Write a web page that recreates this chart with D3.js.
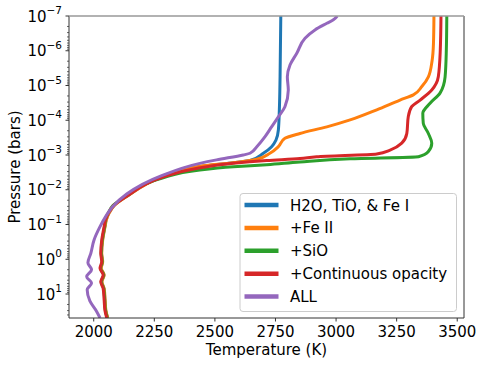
<!DOCTYPE html>
<html>
<head>
<meta charset="utf-8">
<script src="https://cdn.jsdelivr.net/npm/d3@7/dist/d3.min.js"></script>
<style>
  html, body { margin: 0; padding: 0; background: #fff; }
  svg { display: block; font-family: "DejaVu Sans", sans-serif; }
</style>
</head>
<body>
<svg id="chart" width="485" height="367"></svg>
<script>
// ---- Data: [temperature (K), log10 pressure (bars)], ordered deep -> high altitude ----
const seriesNames = ["H2O, TiO, & Fe I", "+Fe II", "+SiO", "+Continuous opacity", "ALL"];
const seriesColors = ["#1f77b4", "#ff7f0e", "#2ca02c", "#d62728", "#9467bd"];

const profileBase = [
  [2059,1.69],[2051,1.46],[2048,1.17],[2044,0.84],[2035,0.65],[2044,0.45],[2032,0.26],[2038,0.07],
  [2034,-0.17],[2038,-0.55],[2048,-0.94],[2053,-1.13],[2064,-1.32],[2086,-1.55],[2142,-1.83],[2282,-2.36],
  [2440,-2.66],[2578,-2.78],[2647,-2.84],[2702,-3.05],[2736,-3.24],[2754,-3.43],[2764,-3.72],[2768,-4.30],
  [2771,-5.25],[2774,-7.00]
];
const profileFeII = [
  [2060,1.69],[2052,1.46],[2049,1.17],[2045,0.84],[2036,0.65],[2045,0.45],[2033,0.26],[2039,0.07],
  [2035,-0.17],[2039,-0.55],[2049,-0.94],[2054,-1.13],[2065,-1.32],[2087,-1.55],[2143,-1.83],[2282,-2.36],
  [2440,-2.68],[2578,-2.78],[2675,-2.88],[2729,-3.05],[2764,-3.24],[2791,-3.48],[2853,-3.62],[2964,-3.81],
  [3060,-4.01],[3170,-4.30],[3266,-4.58],[3321,-4.73],[3356,-4.97],[3383,-5.25],[3398,-5.70],[3404,-6.21],
  [3406,-7.00]
];
const profileSiO = [
  [2058,1.69],[2050,1.46],[2047,1.17],[2043,0.84],[2033,0.65],[2043,0.45],[2030,0.26],[2037,0.07],
  [2033,-0.17],[2037,-0.55],[2047,-0.94],[2051,-1.13],[2061,-1.32],[2082,-1.55],[2140,-1.83],[2282,-2.33],
  [2440,-2.57],[2578,-2.66],[2716,-2.72],[2853,-2.80],[3060,-2.89],[3342,-2.95],[3383,-3.10],[3397,-3.34],
  [3383,-3.62],[3362,-3.91],[3360,-4.20],[3390,-4.49],[3431,-4.78],[3452,-5.25],[3457,-6.00],[3459,-7.00]
];
const profileContinuum = [
  [2056,1.69],[2048,1.46],[2045,1.17],[2041,0.84],[2031,0.65],[2041,0.45],[2028,0.26],[2035,0.07],
  [2031,-0.17],[2035,-0.55],[2045,-0.94],[2050,-1.13],[2062,-1.32],[2085,-1.55],[2141,-1.83],[2282,-2.35],
  [2430,-2.62],[2578,-2.76],[2716,-2.84],[2853,-2.90],[2922,-2.95],[3170,-3.03],[3225,-3.14],[3273,-3.34],
  [3294,-3.62],[3300,-4.10],[3314,-4.39],[3349,-4.58],[3397,-4.87],[3424,-5.25],[3432,-6.00],[3435,-7.00]
];
const profileAll = [
  [2028,1.69],[2014,1.50],[1986,1.20],[1975,0.88],[1993,0.68],[1973,0.50],[1993,0.30],[1978,0.10],
  [1990,-0.17],[2003,-0.55],[2028,-0.94],[2053,-1.25],[2080,-1.51],[2138,-1.88],[2280,-2.40],[2440,-2.76],[2509,-2.86],
  [2619,-3.00],[2647,-3.05],[2675,-3.24],[2709,-3.53],[2736,-3.81],[2764,-4.10],[2791,-4.39],[2805,-4.87],
  [2801,-5.25],[2812,-5.59],[2840,-5.93],[2874,-6.36],[2915,-6.60],[2964,-6.79],[2991,-6.89],[3007,-7.00]
];
const profiles = [profileBase, profileFeII, profileSiO, profileContinuum, profileAll];

const xTicks = [2000, 2250, 2500, 2750, 3000, 3250, 3500];
const yTickExponents = [-7, -6, -5, -4, -3, -2, -1, 0, 1];
const xDomain = [1900, 3530];
const yDomain = [1e-7, Math.pow(10, 1.69)];

// ---- Layout ----
const svg = d3.select("#chart");
const L = 69, R = 464, T = 16, B = 318;

const x = d3.scaleLinear().domain(xDomain).range([L, R]);
const y = d3.scaleLog().domain(yDomain).range([T, B]);

svg.append("defs").append("clipPath").attr("id", "clip")
  .append("rect").attr("x", L).attr("y", T).attr("width", R - L).attr("height", B - T);

// lines
const line = d3.line()
  .x(d => x(d[0]))
  .y(d => y(Math.pow(10, d[1])))
  .curve(d3.curveMonotoneY);

const g = svg.append("g").attr("clip-path", "url(#clip)");
profiles.forEach((p, i) => {
  g.append("path").datum(p)
    .attr("d", line)
    .attr("fill", "none")
    .attr("stroke", seriesColors[i])
    .attr("stroke-width", 3)
    .attr("stroke-linejoin", "round")
    .attr("stroke-linecap", "butt");
});

// x axis
const xAxis = d3.axisBottom(x).tickValues(xTicks).tickSize(3.5).tickPadding(3.5).tickFormat(d3.format("d"));
const gx = svg.append("g").attr("transform", `translate(0,${B})`).call(xAxis);
gx.select(".domain").remove();
gx.selectAll(".tick line").attr("stroke", "#000").attr("stroke-width", 0.8);
gx.selectAll(".tick text").attr("font-size", 15).attr("font-family", "DejaVu Sans").attr("fill", "#000")
  .attr("dy", null).attr("y", 18.5);

// y axis: major ticks + minor ticks
const gy = svg.append("g");
yTickExponents.forEach(e => {
  const yy = y(Math.pow(10, e));
  gy.append("line").attr("x1", L - 3.5).attr("x2", L).attr("y1", yy).attr("y2", yy)
    .attr("stroke", "#000").attr("stroke-width", 0.8);
  const t = gy.append("text").attr("x", 62).attr("y", yy + 5.5)
    .attr("text-anchor", "end").attr("font-size", 15).attr("fill", "#000");
  t.append("tspan").text("10");
  t.append("tspan").attr("font-size", 10.5).attr("dy", -7.5).text(e < 0 ? "\u2212" + Math.abs(e) : String(e));
});
for (let e = -7; e <= 1; e++) {
  for (let m = 2; m <= 9; m++) {
    const v = m * Math.pow(10, e);
    if (v > yDomain[1]) continue;
    const yy = y(v);
    gy.append("line").attr("x1", L - 2).attr("x2", L).attr("y1", yy).attr("y2", yy)
      .attr("stroke", "#000").attr("stroke-width", 0.6);
  }
}

// spines
svg.append("line").attr("x1", L).attr("x2", L).attr("y1", T).attr("y2", B).attr("stroke", "#333").attr("stroke-width", 1);
svg.append("line").attr("x1", R).attr("x2", R).attr("y1", T).attr("y2", B).attr("stroke", "#333").attr("stroke-width", 1);
svg.append("line").attr("x1", L).attr("x2", R).attr("y1", B).attr("y2", B).attr("stroke", "#333").attr("stroke-width", 1);
svg.append("line").attr("x1", L).attr("x2", R).attr("y1", T).attr("y2", T).attr("stroke", "#999").attr("stroke-width", 1.5);

// axis labels
svg.append("text").attr("x", (L + R) / 2).attr("y", 354.5).attr("text-anchor", "middle")
  .attr("font-size", 15).attr("fill", "#000").text("Temperature (K)");
svg.append("text").attr("transform", `translate(20,${(T + B) / 2}) rotate(-90)`).attr("text-anchor", "middle")
  .attr("font-size", 15).attr("fill", "#000").text("Pressure (bars)");

// legend
const lg = svg.append("g");
lg.append("rect").attr("x", 240).attr("y", 193.5).attr("width", 216.5).attr("height", 118)
  .attr("rx", 3).attr("fill", "#fff").attr("fill-opacity", 0.8).attr("stroke", "#ccc").attr("stroke-width", 1);
seriesNames.forEach((name, i) => {
  const cy = 205 + i * 22.9;
  lg.append("line").attr("x1", 244.5).attr("x2", 278.5).attr("y1", cy).attr("y2", cy)
    .attr("stroke", seriesColors[i]).attr("stroke-width", 4.5);
  lg.append("text").attr("x", 290).attr("y", cy + 5.5).attr("font-size", 15).attr("fill", "#000").text(name);
});
</script>
</body>
</html>
